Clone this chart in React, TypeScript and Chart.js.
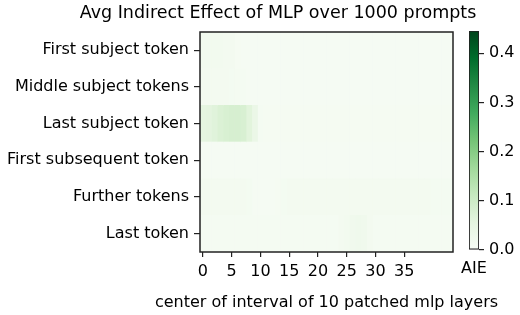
import { useEffect, useRef } from 'react';
import { Chart, registerables } from 'chart.js';

Chart.register(...registerables);

const titleText = 'Avg Indirect Effect of MLP over 1000 prompts';
const xTitle = 'center of interval of 10 patched mlp layers';
const colorbarLabel = 'AIE';

const rowLabels = [
  'First subject token',
  'Middle subject tokens',
  'Last subject token',
  'First subsequent token',
  'Further tokens',
  'Last token',
];

const layers = [
  0, 1, 2, 3, 4, 5, 6, 7, 8, 9, 10, 11, 12, 13, 14, 15, 16, 17, 18, 19, 20, 21,
  22, 23, 24, 25, 26, 27, 28, 29, 30, 31, 32, 33, 34, 35, 36, 37, 38, 39, 40, 41, 42, 43,
];

const xTicks = [0, 5, 10, 15, 20, 25, 30, 35];
const cbTicks = [0, 0.1, 0.2, 0.3, 0.4];
const vMax = 0.445;

const firstSubject = [
  0.016, 0.016, 0.015, 0.015, 0.013, 0.012, 0.007, 0.006, 0.006, 0.006, 0.006,
  0.006, 0.006, 0.006, 0.006, 0.006, 0.006, 0.006, 0.006, 0.006, 0.006, 0.006,
  0.006, 0.006, 0.006, 0.006, 0.006, 0.006, 0.006, 0.006, 0.006, 0.006, 0.006,
  0.006, 0.006, 0.006, 0.006, 0.006, 0.006, 0.006, 0.006, 0.006, 0.006, 0.006,
];
const middleSubject = [
  0.012, 0.012, 0.012, 0.012, 0.012, 0.011, 0.01, 0.009, 0.006, 0.006, 0.006,
  0.006, 0.006, 0.006, 0.006, 0.006, 0.006, 0.006, 0.006, 0.006, 0.006, 0.006,
  0.006, 0.006, 0.006, 0.006, 0.006, 0.006, 0.006, 0.006, 0.006, 0.006, 0.006,
  0.006, 0.006, 0.006, 0.006, 0.006, 0.006, 0.006, 0.006, 0.006, 0.006, 0.006,
];
const lastSubject = [
  0.055, 0.058, 0.064, 0.074, 0.08, 0.083, 0.083, 0.08, 0.062, 0.038, 0.008,
  0.007, 0.007, 0.007, 0.007, 0.007, 0.007, 0.007, 0.007, 0.007, 0.007, 0.007,
  0.007, 0.007, 0.007, 0.007, 0.007, 0.007, 0.007, 0.007, 0.007, 0.007, 0.007,
  0.007, 0.007, 0.007, 0.007, 0.007, 0.007, 0.007, 0.007, 0.007, 0.007, 0.007,
];
const firstSubsequent = [
  0.006, 0.006, 0.006, 0.006, 0.006, 0.006, 0.006, 0.006, 0.006, 0.006, 0.006,
  0.006, 0.006, 0.006, 0.006, 0.006, 0.006, 0.006, 0.006, 0.006, 0.006, 0.006,
  0.006, 0.006, 0.006, 0.006, 0.006, 0.006, 0.006, 0.006, 0.006, 0.006, 0.006,
  0.006, 0.006, 0.006, 0.006, 0.006, 0.006, 0.006, 0.006, 0.006, 0.006, 0.006,
];
const furtherTokens = [
  0.012, 0.012, 0.012, 0.012, 0.012, 0.012, 0.012, 0.012, 0.011, 0.006, 0.006,
  0.006, 0.006, 0.007, 0.011, 0.012, 0.012, 0.012, 0.012, 0.012, 0.012, 0.012,
  0.012, 0.012, 0.012, 0.012, 0.012, 0.012, 0.012, 0.012, 0.012, 0.012, 0.012,
  0.012, 0.012, 0.012, 0.012, 0.012, 0.012, 0.012, 0.011, 0.011, 0.011, 0.011,
];
const lastToken = [
  0.008, 0.008, 0.008, 0.008, 0.008, 0.008, 0.008, 0.008, 0.008, 0.008, 0.008,
  0.008, 0.008, 0.008, 0.008, 0.008, 0.008, 0.008, 0.008, 0.008, 0.008, 0.008,
  0.008, 0.008, 0.012, 0.016, 0.022, 0.024, 0.021, 0.013, 0.009, 0.008, 0.008,
  0.008, 0.008, 0.008, 0.008, 0.008, 0.008, 0.008, 0.008, 0.008, 0.008, 0.008,
];

const rows = [firstSubject, middleSubject, lastSubject, firstSubsequent, furtherTokens, lastToken];

const greens = [
  [247, 252, 245],
  [229, 245, 224],
  [199, 233, 192],
  [161, 217, 155],
  [116, 196, 118],
  [65, 171, 93],
  [35, 139, 69],
  [0, 109, 44],
  [0, 68, 27],
];

function greenColor(v: number): string {
  const t = Math.max(0, Math.min(1, v / vMax)) * (greens.length - 1);
  const i = Math.min(greens.length - 2, Math.floor(t));
  const f = t - i;
  const a = greens[i];
  const b = greens[i + 1];
  const c = a.map((x, k) => Math.round(x + (b[k] - x) * f));
  return `rgb(${c[0]},${c[1]},${c[2]})`;
}

const FONT = "'DejaVu Sans', sans-serif";

const frame = {
  id: 'frame',
  afterDatasetsDraw(chart: any) {
    const { ctx, chartArea: a } = chart;
    ctx.save();
    ctx.strokeStyle = '#222';
    ctx.lineWidth = 1.5;
    ctx.strokeRect(a.left, a.top, a.right - a.left, a.bottom - a.top);
    ctx.restore();
  },
};

const mainTexts = {
  id: 'mainTexts',
  afterDraw(chart: any) {
    const { ctx, chartArea: a } = chart;
    ctx.save();
    ctx.fillStyle = '#000';
    ctx.textAlign = 'center';
    ctx.textBaseline = 'middle';
    ctx.font = `17.5px ${FONT}`;
    ctx.fillText(titleText, 278, 13.5);
    ctx.font = `16px ${FONT}`;
    ctx.fillText(xTitle, (a.left + a.right) / 2, 303);
    ctx.restore();
  },
};

const cbTexts = {
  id: 'cbTexts',
  afterDraw(chart: any) {
    const { ctx, chartArea: a } = chart;
    ctx.save();
    ctx.fillStyle = '#000';
    ctx.textAlign = 'center';
    ctx.textBaseline = 'middle';
    ctx.font = `16px ${FONT}`;
    ctx.fillText(colorbarLabel, (a.left + a.right) / 2, a.bottom + 19);
    ctx.restore();
  },
};

export default function App() {
  const mainRef = useRef<HTMLCanvasElement>(null);
  const cbRef = useRef<HTMLCanvasElement>(null);

  useEffect(() => {
    const datasets = layers.map((layer) => ({
      label: String(layer),
      data: rows.map(() => [layer - 0.5, layer + 0.5]),
      backgroundColor: rows.map((r) => greenColor(r[layer])),
      borderWidth: 0,
      barPercentage: 1,
      categoryPercentage: 1,
    }));

    const main = new Chart(mainRef.current!, {
      type: 'bar',
      data: { labels: rowLabels, datasets: datasets as any },
      options: {
        indexAxis: 'y',
        animation: false,
        responsive: false,
        maintainAspectRatio: false,
        layout: { padding: { left: 0, right: 67, top: 32, bottom: 0 } },
        plugins: {
          legend: { display: false },
          tooltip: { enabled: false },
          title: { display: false },
        },
        scales: {
          x: {
            type: 'linear',
            min: -0.5,
            max: 43.5,
            stacked: false,
            afterBuildTicks: (s: any) => {
              s.ticks = xTicks.map((v) => ({ value: v }));
            },
            afterFit: (s: any) => {
              s.height = 63;
            },
            ticks: {
              autoSkip: false,
              maxRotation: 0,
              color: '#000',
              padding: 5,
              font: { family: FONT, size: 16 },
            },
            grid: { display: true, drawOnChartArea: false, drawTicks: true, tickLength: 5, color: '#222', lineWidth: 1.2 },
            border: { display: false },
          },
          y: {
            stacked: true,
            afterFit: (s: any) => {
              s.width = 200;
            },
            ticks: {
              color: '#000',
              padding: 5,
              autoSkip: false,
              font: { family: FONT, size: 16 },
            },
            grid: {
              display: true,
              offset: false,
              drawOnChartArea: false,
              drawTicks: true,
              tickLength: 6,
              color: '#222',
              lineWidth: 1.2,
            },
            border: { display: false },
          },
        },
      },
      plugins: [frame, mainTexts],
    });

    const cb = new Chart(cbRef.current!, {
      type: 'bar',
      data: {
        labels: [''],
        datasets: [
          {
            data: [[0, vMax]] as any,
            backgroundColor: (ctx: any) => {
              const area = ctx.chart.chartArea;
              if (!area) return 'rgb(247,252,245)';
              const g = ctx.chart.ctx.createLinearGradient(0, area.bottom, 0, area.top);
              greens.forEach((c, i) => g.addColorStop(i / (greens.length - 1), `rgb(${c[0]},${c[1]},${c[2]})`));
              return g;
            },
            borderColor: '#222',
            borderWidth: 1.2,
            borderSkipped: false,
            barPercentage: 1,
            categoryPercentage: 1,
          },
        ],
      },
      options: {
        animation: false,
        responsive: false,
        maintainAspectRatio: false,
        layout: { padding: { left: 29, top: 31, right: 0, bottom: 0 } },
        plugins: { legend: { display: false }, tooltip: { enabled: false } },
        scales: {
          x: {
            afterFit: (s: any) => {
              s.height = 65;
            },
            grid: { display: false },
            border: { display: false },
            ticks: { display: false },
          },
          y: {
            position: 'right',
            min: 0,
            max: vMax,
            afterBuildTicks: (s: any) => {
              s.ticks = cbTicks.map((v) => ({ value: v }));
            },
            afterFit: (s: any) => {
              s.width = 41;
            },
            ticks: {
              color: '#000',
              padding: 5,
              font: { family: FONT, size: 16 },
              callback: (v: any) => Number(v).toFixed(1),
            },
            grid: { display: true, drawOnChartArea: false, drawTicks: true, tickLength: 5, color: '#222', lineWidth: 1.2 },
            border: { display: false },
          },
        },
      },
      plugins: [cbTexts],
    });

    return () => {
      main.destroy();
      cb.destroy();
    };
  }, []);

  return (
    <div style={{ position: 'fixed', left: 0, top: 0, width: 520, height: 315, background: '#fff' }}>
      <canvas ref={mainRef} width={520} height={315} style={{ position: 'absolute', left: 0, top: 0 }} />
      <canvas ref={cbRef} width={80} height={315} style={{ position: 'absolute', left: 440, top: 0 }} />
    </div>
  );
}
